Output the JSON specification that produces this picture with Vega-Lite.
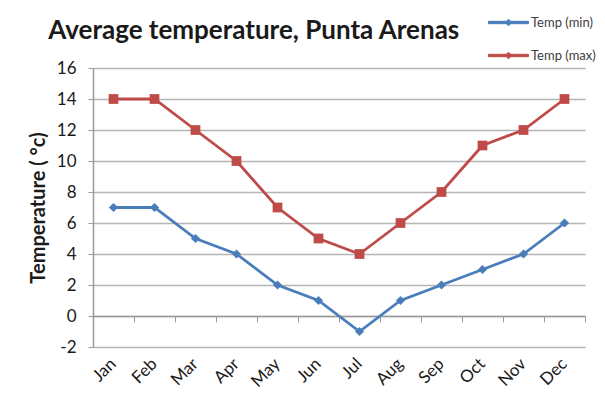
{
  "$schema": "https://vega.github.io/schema/vega-lite/v6.json",
  "autosize": "none",
  "width": 492,
  "height": 279,
  "padding": {"left": 93, "top": 68, "right": 20, "bottom": 59},
  "background": "white",
  "title": {
    "text": "Average temperature, Punta Arenas",
    "anchor": "start",
    "dx": 20,
    "offset": -37,
    "font": "Lato",
    "fontSize": 26,
    "fontWeight": "bold",
    "color": "#1a1a1a"
  },
  "config": {
    "view": {"stroke": null},
    "font": "Lato"
  },
  "data": {
    "values": [
      {"Month": "Jan", "Series": "Temp (min)", "Temp": 7},
      {"Month": "Feb", "Series": "Temp (min)", "Temp": 7},
      {"Month": "Mar", "Series": "Temp (min)", "Temp": 5},
      {"Month": "Apr", "Series": "Temp (min)", "Temp": 4},
      {"Month": "May", "Series": "Temp (min)", "Temp": 2},
      {"Month": "Jun", "Series": "Temp (min)", "Temp": 1},
      {"Month": "Jul", "Series": "Temp (min)", "Temp": -1},
      {"Month": "Aug", "Series": "Temp (min)", "Temp": 1},
      {"Month": "Sep", "Series": "Temp (min)", "Temp": 2},
      {"Month": "Oct", "Series": "Temp (min)", "Temp": 3},
      {"Month": "Nov", "Series": "Temp (min)", "Temp": 4},
      {"Month": "Dec", "Series": "Temp (min)", "Temp": 6},
      {"Month": "Jan", "Series": "Temp (max)", "Temp": 14},
      {"Month": "Feb", "Series": "Temp (max)", "Temp": 14},
      {"Month": "Mar", "Series": "Temp (max)", "Temp": 12},
      {"Month": "Apr", "Series": "Temp (max)", "Temp": 10},
      {"Month": "May", "Series": "Temp (max)", "Temp": 7},
      {"Month": "Jun", "Series": "Temp (max)", "Temp": 5},
      {"Month": "Jul", "Series": "Temp (max)", "Temp": 4},
      {"Month": "Aug", "Series": "Temp (max)", "Temp": 6},
      {"Month": "Sep", "Series": "Temp (max)", "Temp": 8},
      {"Month": "Oct", "Series": "Temp (max)", "Temp": 11},
      {"Month": "Nov", "Series": "Temp (max)", "Temp": 12},
      {"Month": "Dec", "Series": "Temp (max)", "Temp": 14}
    ]
  },
  "resolve": {"axis": {"x": "independent"}},
  "layer": [
    {
      "mark": {"type": "line", "strokeWidth": 2.8},
      "encoding": {
        "x": {
          "field": "Month", "type": "ordinal", "sort": null,
          "scale": {"paddingInner": 0, "paddingOuter": 0},
          "axis": {
            "orient": "bottom",
            "title": null, "domain": false, "ticks": false, "grid": false,
            "labelAngle": -45, "labelAlign": "right", "labelBaseline": "middle",
            "labelPadding": 14, "labelFontSize": 17, "labelColor": "#1a1a1a", "labelFont": "Lato"
          }
        },
        "y": {
          "field": "Temp", "type": "quantitative",
          "scale": {"domain": [-2, 16], "nice": false, "zero": false},
          "axis": {
            "values": [-2, 0, 2, 4, 6, 8, 10, 12, 14, 16],
            "tickCount": 10,
            "labelOverlap": false,
            "labelExpr": "replace(datum.label, '\u2212', '-')",
            "title": "Temperature ( °c)",
            "titleFontSize": 20, "titleFontWeight": "bold", "titleColor": "#1a1a1a",
            "titlePadding": 8,
            "labelFontSize": 17, "labelColor": "#1a1a1a", "labelPadding": 12,
            "domainColor": "#9a9a9a", "domainWidth": 1.5,
            "tickColor": "#9a9a9a", "tickSize": 5,
            "gridColor": "#b5b5b5", "gridWidth": 1.5
          }
        },
        "color": {
          "field": "Series", "type": "nominal",
          "scale": {"domain": ["Temp (min)", "Temp (max)"], "range": ["#4a7ebb", "#be4b48"]},
          "legend": {
            "title": null, "orient": "none", "legendX": 400, "legendY": -61,
            "symbolType": "M-1.33,-0.08H1.33V0.08H-1.33Z M0,-0.22L0.22,0L0,0.22L-0.22,0Z",
            "symbolSize": 900, "symbolStrokeWidth": 1,
            "labelFontSize": 13, "labelColor": "#404040", "labelFont": "Lato",
            "rowPadding": 10, "labelOffset": 7
          }
        }
      }
    },
    {
      "transform": [{"filter": "datum.Series == 'Temp (min)'"}],
      "mark": {"type": "point", "filled": true, "opacity": 1, "shape": "diamond", "size": 85},
      "encoding": {
        "x": {
          "field": "Month", "type": "ordinal", "sort": null,
          "axis": {
            "orient": "bottom",
            "title": null, "labels": false, "grid": false, "offset": -31,
            "tickBand": "extent", "domainColor": "#9a9a9a", "domainWidth": 1.5,
            "tickColor": "#9a9a9a", "tickSize": 6
          }
        },
        "y": {
          "field": "Temp", "type": "quantitative",
          "axis": {
            "values": [-2, 0, 2, 4, 6, 8, 10, 12, 14, 16],
            "tickCount": 10,
            "labelOverlap": false
          }
        },
        "color": {"field": "Series", "type": "nominal"}
      }
    },
    {
      "transform": [{"filter": "datum.Series == 'Temp (max)'"}],
      "mark": {"type": "point", "filled": true, "opacity": 1, "shape": "square", "size": 95},
      "encoding": {
        "x": {"field": "Month", "type": "ordinal", "sort": null, "axis": null},
        "y": {"field": "Temp", "type": "quantitative"},
        "color": {"field": "Series", "type": "nominal"}
      }
    }
  ]
}
